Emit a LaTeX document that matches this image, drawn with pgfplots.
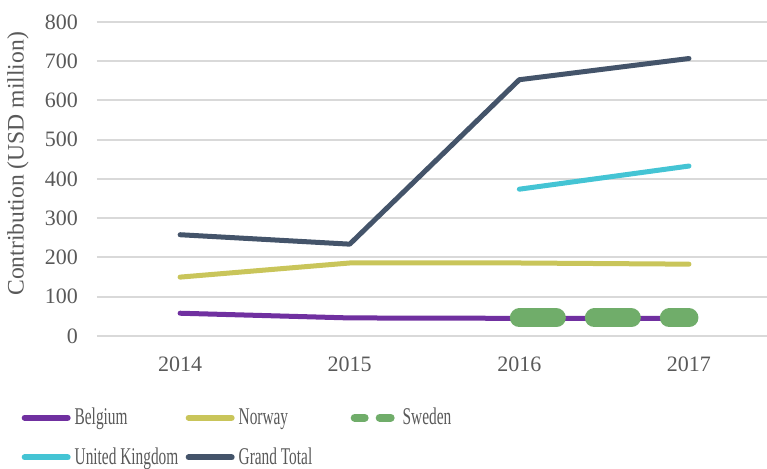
\documentclass[border=0pt]{standalone}
\usepackage{fontspec}
\setmainfont{Liberation Serif}
\usepackage{pgfplots}
\pgfplotsset{compat=1.18}
\definecolor{cBel}{RGB}{112,48,160}
\definecolor{cNor}{RGB}{201,197,90}
\definecolor{cSwe}{RGB}{112,173,106}
\definecolor{cUK}{RGB}{68,196,212}
\definecolor{cTot}{RGB}{68,84,106}
\definecolor{gridc}{RGB}{217,217,217}
\definecolor{txt}{RGB}{89,89,89}
\newcommand{\legtxt}[2]{\makebox[#1][l]{\scalebox{0.64}[1]{#2}}}
\begin{document}
\begin{tikzpicture}
\begin{axis}[
  scale only axis, width=335pt, height=157pt,
  xmin=-0.49, xmax=3.46, ymin=0, ymax=800,
  xtick={0,1,2,3}, xticklabels={2014,2015,2016,2017},
  ytick={0,100,...,800},
  ymajorgrids, grid style={draw=gridc, line width=1pt},
  axis line style={draw=none}, major tick length=0pt,
  tick label style={font=\fontsize{11}{13}\selectfont, text=txt},
  yticklabel style={xshift=-6pt},
  xticklabel style={yshift=-7pt},
  /pgf/number format/assume math mode=true,
  ylabel={Contribution (USD million)},
  ylabel style={font=\fontsize{11.8}{14}\selectfont, text=txt,
    at={(axis description cs:-0.118,0.548)}, anchor=center},
  every axis plot/.append style={line cap=round, line join=round},
  legend columns=3,
  legend image code/.code={\draw[#1, line width=3pt] (1.5pt,0)--(23pt,0);},
  legend style={at={(axis description cs:-0.113,-0.215)}, anchor=north west,
    draw=none, fill=none, font=\fontsize{12}{13}\selectfont, text=txt,
    row sep=6pt, inner sep=0pt,
    /tikz/every even column/.append style={column sep=2pt}},
]
\coordinate (sw) at (rel axis cs:0,0);
\coordinate (ne) at (rel axis cs:1,1);
\addplot[cBel, line width=2.5pt] coordinates {(0,58) (1,46) (2,45) (3,45)};
\addlegendentry{\legtxt{51.5pt}{Belgium}}
\addplot[cNor, line width=2.5pt] coordinates {(0,150) (1,186) (2,186) (3,183)};
\addlegendentry{\legtxt{52pt}{Norway}}
\addplot[cSwe, line width=9.5pt, dash pattern=on 18.5pt off 19pt,
  legend image code/.code={\draw[cSwe, line width=4pt, line cap=round]
    (2pt,0)--(7pt,0) (14.5pt,0)--(20pt,0);}]
  coordinates {(2,46) (3,46)};
\addlegendentry{\hspace{2pt}\scalebox{0.64}[1]{Sweden}}
\addplot[cUK, line width=2.5pt] coordinates {(2,374) (3,433)};
\addlegendentry{\legtxt{51.5pt}{United Kingdom}}
\addplot[cTot, line width=2.5pt] coordinates {(0,258) (1,234) (2,653) (3,707)};
\addlegendentry{\legtxt{52pt}{Grand Total}}
\end{axis}
\pgfresetboundingbox
\path[use as bounding box] ([shift={(-48.5pt,-66.5pt)}]sw) rectangle ([shift={(0pt,11pt)}]ne);
\end{tikzpicture}
\end{document}
